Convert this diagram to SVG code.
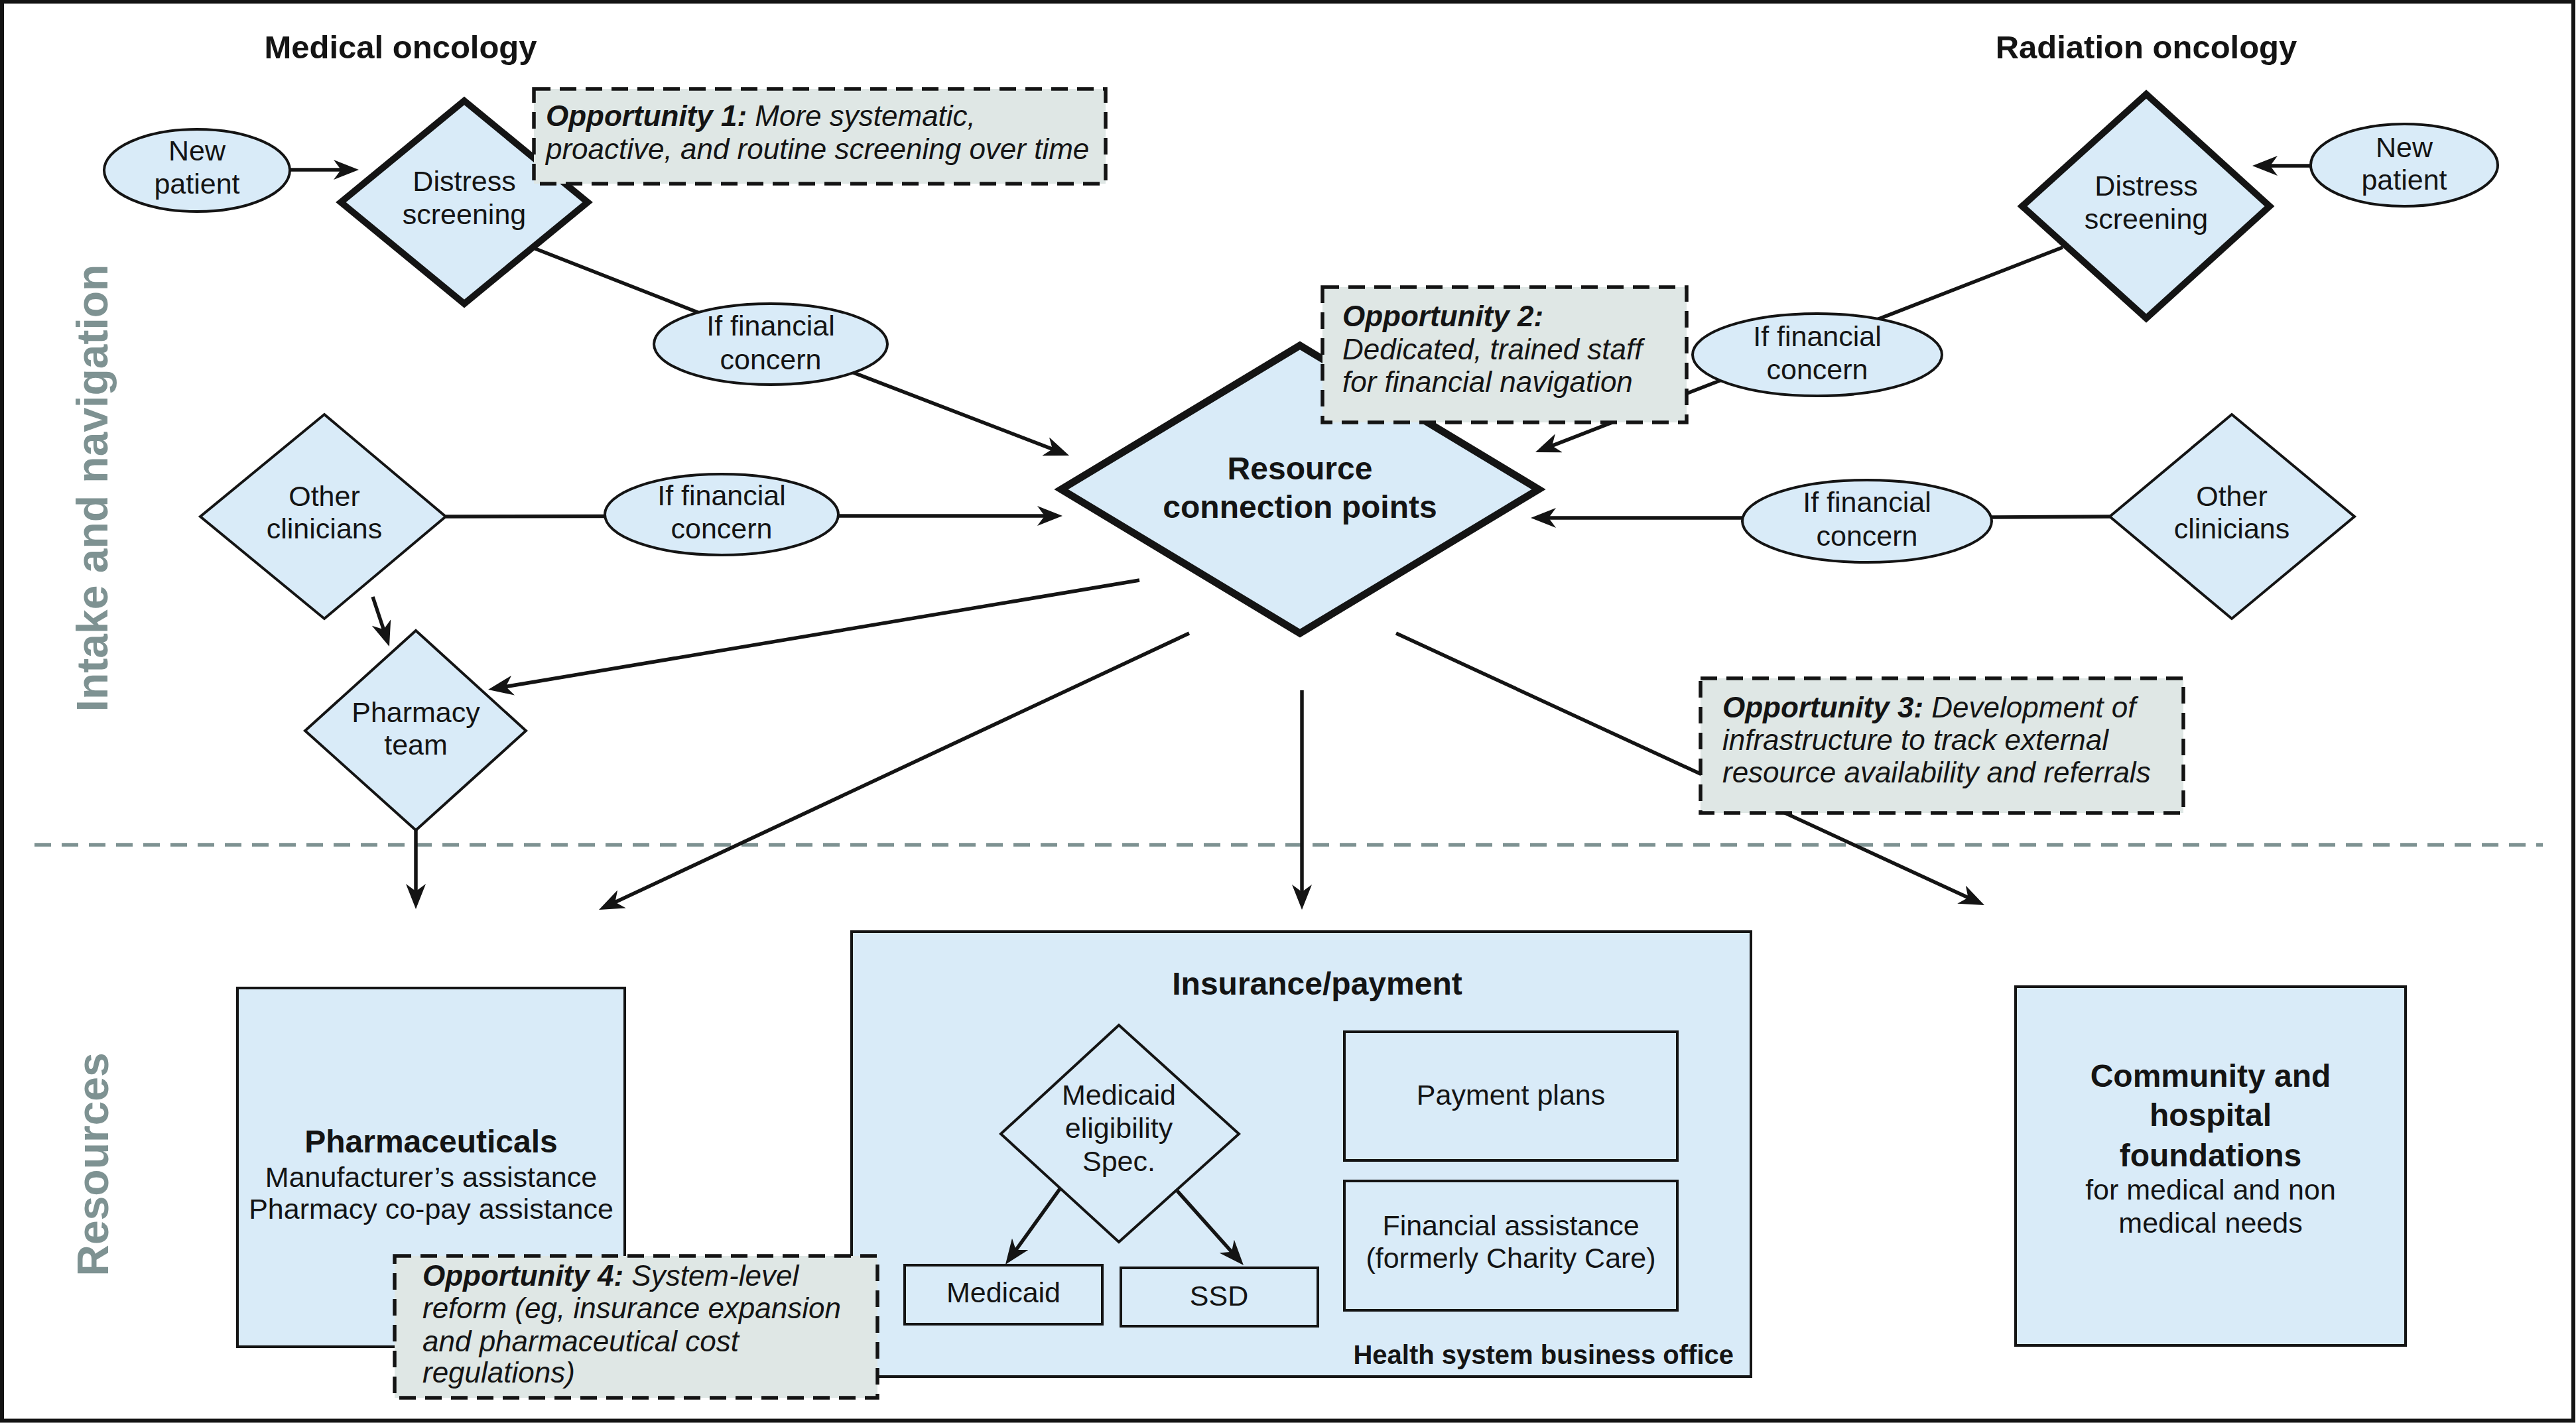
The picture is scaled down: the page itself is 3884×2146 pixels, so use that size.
<svg xmlns="http://www.w3.org/2000/svg" width="3884" height="2146" viewBox="0 0 3884 2146">
<defs>
<style>
.node{fill:#d9ebf8;stroke:#141414;stroke-width:4}
.thick{stroke-width:10}
.thicker{stroke-width:11}
.opp{fill:#dfe7e5;stroke:#141414;stroke-width:5.5;stroke-dasharray:25 14}
text{font-family:"Liberation Sans",Arial,sans-serif;fill:#141414}
.t{font-size:43px;text-anchor:middle}
.b{font-weight:bold}
.h{font-size:49px;font-weight:bold;text-anchor:middle}
.bt{font-size:48px;font-weight:bold;text-anchor:middle}
.ot{font-size:44px;font-style:italic}
.side{font-size:66px;font-weight:bold;fill:#7e9292;text-anchor:middle}
.conn line{stroke:#141414;stroke-width:5.5;fill:none}
.conn .a{marker-end:url(#ah)}
</style>
<marker id="ah" viewBox="0 0 38 30" markerWidth="38" markerHeight="30" refX="28" refY="15" orient="auto" markerUnits="userSpaceOnUse">
<path d="M0,0 L38,15 L0,30 L11,15 Z" fill="#141414"/>
</marker>
</defs>
<rect x="3" y="2.5" width="3877" height="2140" fill="#ffffff" stroke="#141414" stroke-width="6"/>

<g id="titles">
<text class="h" x="604" y="88">Medical oncology</text>
<text class="h" x="3236" y="88">Radiation oncology</text>
</g>
<g id="section-labels">
<text class="side" transform="translate(162,736) rotate(-90)">Intake and navigation</text>
<text class="side" transform="translate(163,1756) rotate(-90)">Resources</text>
<line x1="52" y1="1274" x2="3834" y2="1274" stroke="#7e9292" stroke-width="5.5" stroke-dasharray="25 16"/>
</g>

<g id="insurance-payment">
<rect class="node" x="1284" y="1405" width="1356" height="671"/>
<text class="bt" x="1986" y="1500">Insurance/payment</text>
<text class="b" x="2614" y="2057" font-size="40" text-anchor="end">Health system business office</text>
</g>

<g id="connectors" class="conn">
<line class="a" x1="437" y1="256" x2="531" y2="256"/>
<line class="a" x1="3484" y1="250" x2="3406" y2="250"/>
<line x1="807" y1="375" x2="1162" y2="514"/>
<line class="a" x1="1162" y1="514" x2="1602.7" y2="683.4"/>
<line x1="672" y1="779" x2="1088" y2="778"/>
<line class="a" x1="1088" y1="778" x2="1592" y2="778"/>
<line x1="3110" y1="373" x2="2740" y2="517"/>
<line class="a" x1="2740" y1="517" x2="2324.3" y2="678.4"/>
<line x1="3181" y1="779" x2="2815" y2="781"/>
<line class="a" x1="2815" y1="781" x2="2318" y2="781"/>
<line class="a" x1="562" y1="900" x2="583.8" y2="965.5"/>
<line class="a" x1="1718" y1="875" x2="745.9" y2="1038.3"/>
<line class="a" x1="627" y1="1252" x2="627" y2="1361"/>
<line class="a" x1="1793" y1="955" x2="912.1" y2="1367.8"/>
<line class="a" x1="1963" y1="1041" x2="1963" y2="1362"/>
<line class="a" x1="2105" y1="955" x2="2982.9" y2="1360.8"/>
<line class="a" x1="1598" y1="1793" x2="1521.8" y2="1898.9"/>
<line class="a" x1="1775" y1="1796" x2="1868.3" y2="1900.5"/>
</g>

<g id="new-patient-left">
<ellipse class="node" cx="297" cy="257" rx="140" ry="62"/>
<text class="t" x="297" y="242">New</text>
<text class="t" x="297" y="292">patient</text>
</g>
<g id="distress-left">
<polygon class="node thick" points="700,152 886,305 700,458 514,305"/>
<text class="t" x="700" y="288">Distress</text>
<text class="t" x="700" y="338">screening</text>
</g>
<g id="new-patient-right">
<ellipse class="node" cx="3625" cy="249" rx="141" ry="62"/>
<text class="t" x="3625" y="237">New</text>
<text class="t" x="3625" y="286">patient</text>
</g>
<g id="distress-right">
<polygon class="node thick" points="3236,142 3422,311 3236,480 3049,311"/>
<text class="t" x="3236" y="295">Distress</text>
<text class="t" x="3236" y="345">screening</text>
</g>
<g id="if-financial-1">
<ellipse class="node" cx="1162" cy="519" rx="176" ry="61"/>
<text class="t" x="1162" y="506">If financial</text>
<text class="t" x="1162" y="557">concern</text>
</g>
<g id="if-financial-2">
<ellipse class="node" cx="1088" cy="776" rx="176" ry="61"/>
<text class="t" x="1088" y="762">If financial</text>
<text class="t" x="1088" y="812">concern</text>
</g>
<g id="if-financial-3">
<ellipse class="node" cx="2740" cy="535" rx="188" ry="62"/>
<text class="t" x="2740" y="522">If financial</text>
<text class="t" x="2740" y="572">concern</text>
</g>
<g id="if-financial-4">
<ellipse class="node" cx="2815" cy="786" rx="188" ry="62"/>
<text class="t" x="2815" y="772">If financial</text>
<text class="t" x="2815" y="823">concern</text>
</g>
<g id="other-clinicians-left">
<polygon class="node" points="489,625 672,779 489,933 302,779"/>
<text class="t" x="489" y="763">Other</text>
<text class="t" x="489" y="812">clinicians</text>
</g>
<g id="other-clinicians-right">
<polygon class="node" points="3365,625 3550,779 3365,933 3181,779"/>
<text class="t" x="3365" y="763">Other</text>
<text class="t" x="3365" y="812">clinicians</text>
</g>
<g id="pharmacy-team">
<polygon class="node" points="627,951 793,1102 627,1252 460,1102"/>
<text class="t" x="627" y="1089">Pharmacy</text>
<text class="t" x="627" y="1138">team</text>
</g>
<g id="resource-connection-points">
<polygon class="node thicker" points="1960,521 2320,738 1960,955 1600,738"/>
<text class="bt" x="1960" y="723">Resource</text>
<text class="bt" x="1960" y="781">connection points</text>
</g>

<g id="opportunity-1">
<rect class="opp" x="805" y="134" width="862" height="143"/>
<text class="ot" x="823" y="190"><tspan font-weight="bold">Opportunity 1:</tspan> More systematic,</text>
<text class="ot" x="823" y="240">proactive, and routine screening over time</text>
</g>
<g id="opportunity-2">
<rect class="opp" x="1994" y="433" width="549" height="204"/>
<text class="ot b" x="2024" y="492">Opportunity 2:</text>
<text class="ot" x="2024" y="542">Dedicated, trained staff</text>
<text class="ot" x="2024" y="591">for financial navigation</text>
</g>
<g id="opportunity-3">
<rect class="opp" x="2564" y="1023" width="728" height="203"/>
<text class="ot" x="2597" y="1082"><tspan font-weight="bold">Opportunity 3:</tspan> Development of</text>
<text class="ot" x="2597" y="1131">infrastructure to track external</text>
<text class="ot" x="2597" y="1180">resource availability and referrals</text>
</g>

<g id="pharmaceuticals">
<rect class="node" x="358" y="1490" width="584" height="541"/>
<text class="bt" x="650" y="1738">Pharmaceuticals</text>
<text class="t" x="650" y="1790">Manufacturer’s assistance</text>
<text class="t" x="650" y="1838">Pharmacy co-pay assistance</text>
</g>
<g id="medicaid-eligibility">
<polygon class="node" points="1687,1546 1868,1710 1687,1873 1509,1710"/>
<text class="t" x="1687" y="1666">Medicaid</text>
<text class="t" x="1687" y="1716">eligibility</text>
<text class="t" x="1687" y="1766">Spec.</text>
</g>
<g id="medicaid">
<rect class="node" x="1364" y="1908" width="298" height="89"/>
<text class="t" x="1513" y="1964">Medicaid</text>
</g>
<g id="ssd">
<rect class="node" x="1690" y="1912" width="297" height="88"/>
<text class="t" x="1838" y="1969">SSD</text>
</g>
<g id="payment-plans">
<rect class="node" x="2027" y="1556" width="502" height="194"/>
<text class="t" x="2278" y="1666">Payment plans</text>
</g>
<g id="financial-assistance">
<rect class="node" x="2027" y="1781" width="502" height="195"/>
<text class="t" x="2278" y="1863">Financial assistance</text>
<text class="t" x="2278" y="1912">(formerly Charity Care)</text>
</g>
<g id="community-foundations">
<rect class="node" x="3039" y="1488" width="588" height="541"/>
<text class="bt" x="3333" y="1639">Community and</text>
<text class="bt" x="3333" y="1698">hospital</text>
<text class="bt" x="3333" y="1759">foundations</text>
<text class="t" x="3333" y="1809">for medical and non</text>
<text class="t" x="3333" y="1859">medical needs</text>
</g>
<g id="opportunity-4">
<rect class="opp" x="595" y="1894" width="728" height="214"/>
<text class="ot" x="637" y="1939"><tspan font-weight="bold">Opportunity 4:</tspan> System-level</text>
<text class="ot" x="637" y="1988">reform (eg, insurance expansion</text>
<text class="ot" x="637" y="2038">and pharmaceutical cost</text>
<text class="ot" x="637" y="2085">regulations)</text>
</g>
</svg>
